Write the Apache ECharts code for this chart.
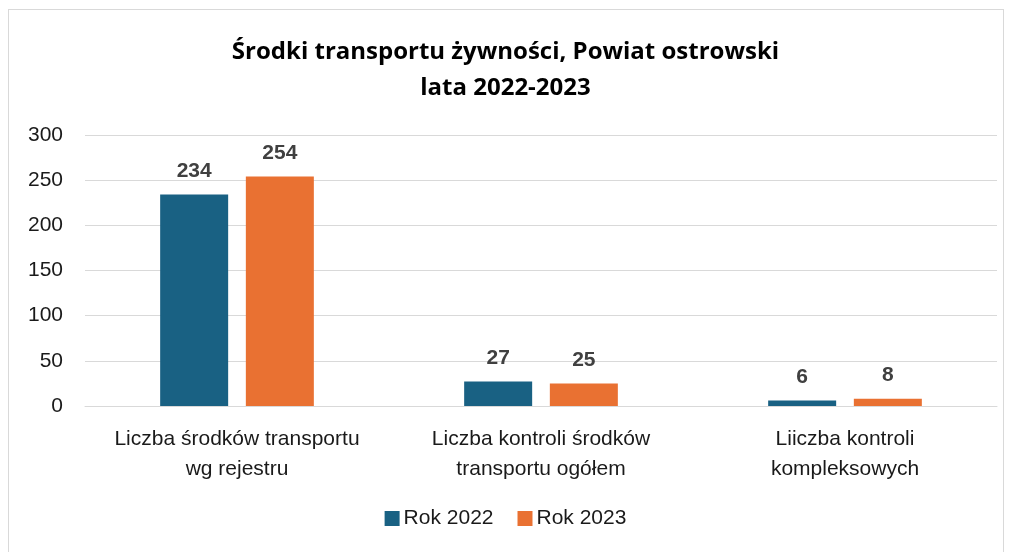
<!DOCTYPE html>
<html><head><meta charset="utf-8">
<script src="https://cdn.jsdelivr.net/npm/echarts@6/dist/echarts.min.js"></script>
<style>
html,body{margin:0;padding:0;background:#fff;}
#frame{position:absolute;left:8px;top:9px;width:996px;height:560px;border:1px solid #d9d9d9;box-sizing:border-box;}
#c{position:absolute;left:0;top:0;width:1011px;height:552px;}
</style></head>
<body><div id="frame"></div><div id="c"></div>
<script>
const categories = ['Liczba środków transportu\nwg rejestru', 'Liczba kontroli środków\ntransportu ogółem', 'Liiczba kontroli\nkompleksowych'];
const rok2022 = [234, 27, 6];
const rok2023 = [254, 25, 8];
const seriesNames = ['Rok 2022', 'Rok 2023'];
const yTicks = {min: 0, max: 300, interval: 50};

const chart = echarts.init(document.getElementById('c'));
const labelCfg = {show: true, position: 'top', distance: 13, color: '#404040', fontSize: 21, fontWeight: 'bold', fontFamily: 'Liberation Sans'};
chart.setOption({
  animation: false,
  title: {
    text: 'Środki transportu żywności, Powiat ostrowski\nlata 2022-2023',
    left: 'center', top: 29,
    textStyle: {fontFamily: 'Open Sans', fontWeight: 'bold', fontSize: 24, lineHeight: 36, color: '#000'}
  },
  legend: {
    data: seriesNames, bottom: 18, left: 'center', itemWidth: 15, itemHeight: 15, itemGap: 24,
    icon: 'rect',
    textStyle: {fontFamily: 'Liberation Sans', fontSize: 21, color: '#1a1a1a', padding: [0,0,0,-1]}
  },
  grid: {left: 85, right: 14, top: 135, bottom: 146, containLabel: false},
  xAxis: {
    type: 'category', data: categories,
    axisLine: {lineStyle: {color: '#d9d9d9', width: 1}},
    axisTick: {show: false},
    axisLabel: {interval: 0, hideOverlap: false, fontFamily: 'Liberation Sans', fontSize: 21, color: '#1a1a1a', lineHeight: 30, margin: 18}
  },
  yAxis: {
    type: 'value', min: yTicks.min, max: yTicks.max, interval: yTicks.interval,
    axisLine: {show: false}, axisTick: {show: false},
    splitLine: {lineStyle: {color: '#d9d9d9', width: 1}},
    axisLabel: {fontFamily: 'Liberation Sans', fontSize: 21, color: '#1a1a1a', margin: 22}
  },
  series: [
    {name: seriesNames[0], type: 'bar', data: rok2022, barWidth: 68, barGap: '26%', itemStyle: {color: '#196183'}, label: labelCfg},
    {name: seriesNames[1], type: 'bar', data: rok2023, barWidth: 68, itemStyle: {color: '#E97132'}, label: labelCfg}
  ]
});
</script></body></html>
